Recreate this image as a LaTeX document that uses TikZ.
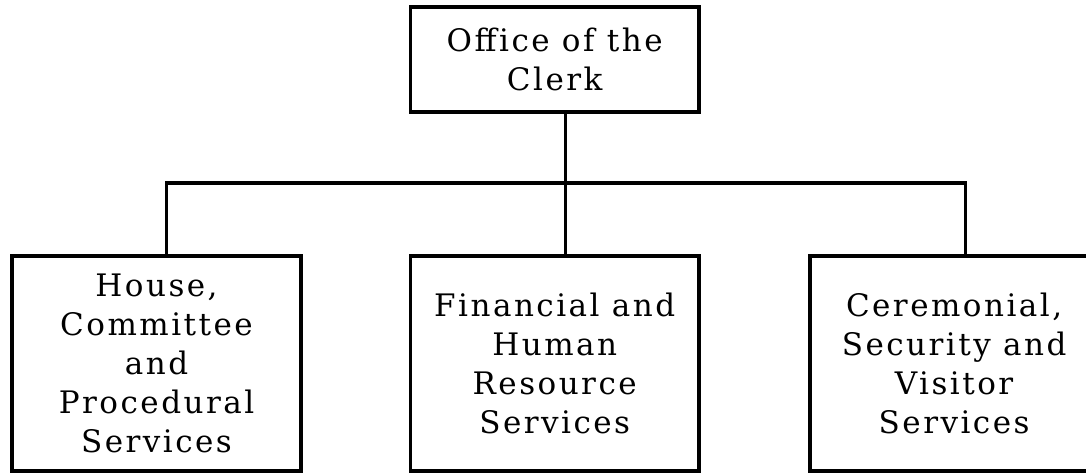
\documentclass[tikz,border=0pt]{standalone}
\usepackage{fontspec}
\setmainfont{DejaVu Serif}[LetterSpace=8]
\begin{document}
\begin{tikzpicture}[x=1pt,y=-1pt,
  box/.style={draw=black,line width=3.8pt,minimum width=288.5pt,inner sep=0pt,align=center,
    font=\fontsize{31}{39}\selectfont},
  conn/.style={draw=black,line width=3.2pt}]
\useasboundingbox (0,0) rectangle (1086,474);
\clip (0,0) rectangle (1086,474);
\node[box,minimum height=104.5pt] (top) at (554.7,59.5) {Office of the\\Clerk};
\node[box,minimum height=215.5pt] (left) at (156.5,363.5) {House,\\Committee\\and\\Procedural\\Services};
\node[box,minimum height=215.5pt] (mid) at (554.7,363.5) {Financial and\\Human\\Resource\\Services};
\node[box,minimum height=215.5pt] (right) at (954.1,363.5) {Ceremonial,\\Security and\\Visitor\\Services};
\coordinate (bus) at (566,183);
\draw[conn] ([xshift=11pt]top.south) -- ([xshift=11pt]mid.north);
\draw[conn] ([xshift=10pt]left.north) |- (bus) -| ([xshift=11pt]right.north);
\end{tikzpicture}
\end{document}
